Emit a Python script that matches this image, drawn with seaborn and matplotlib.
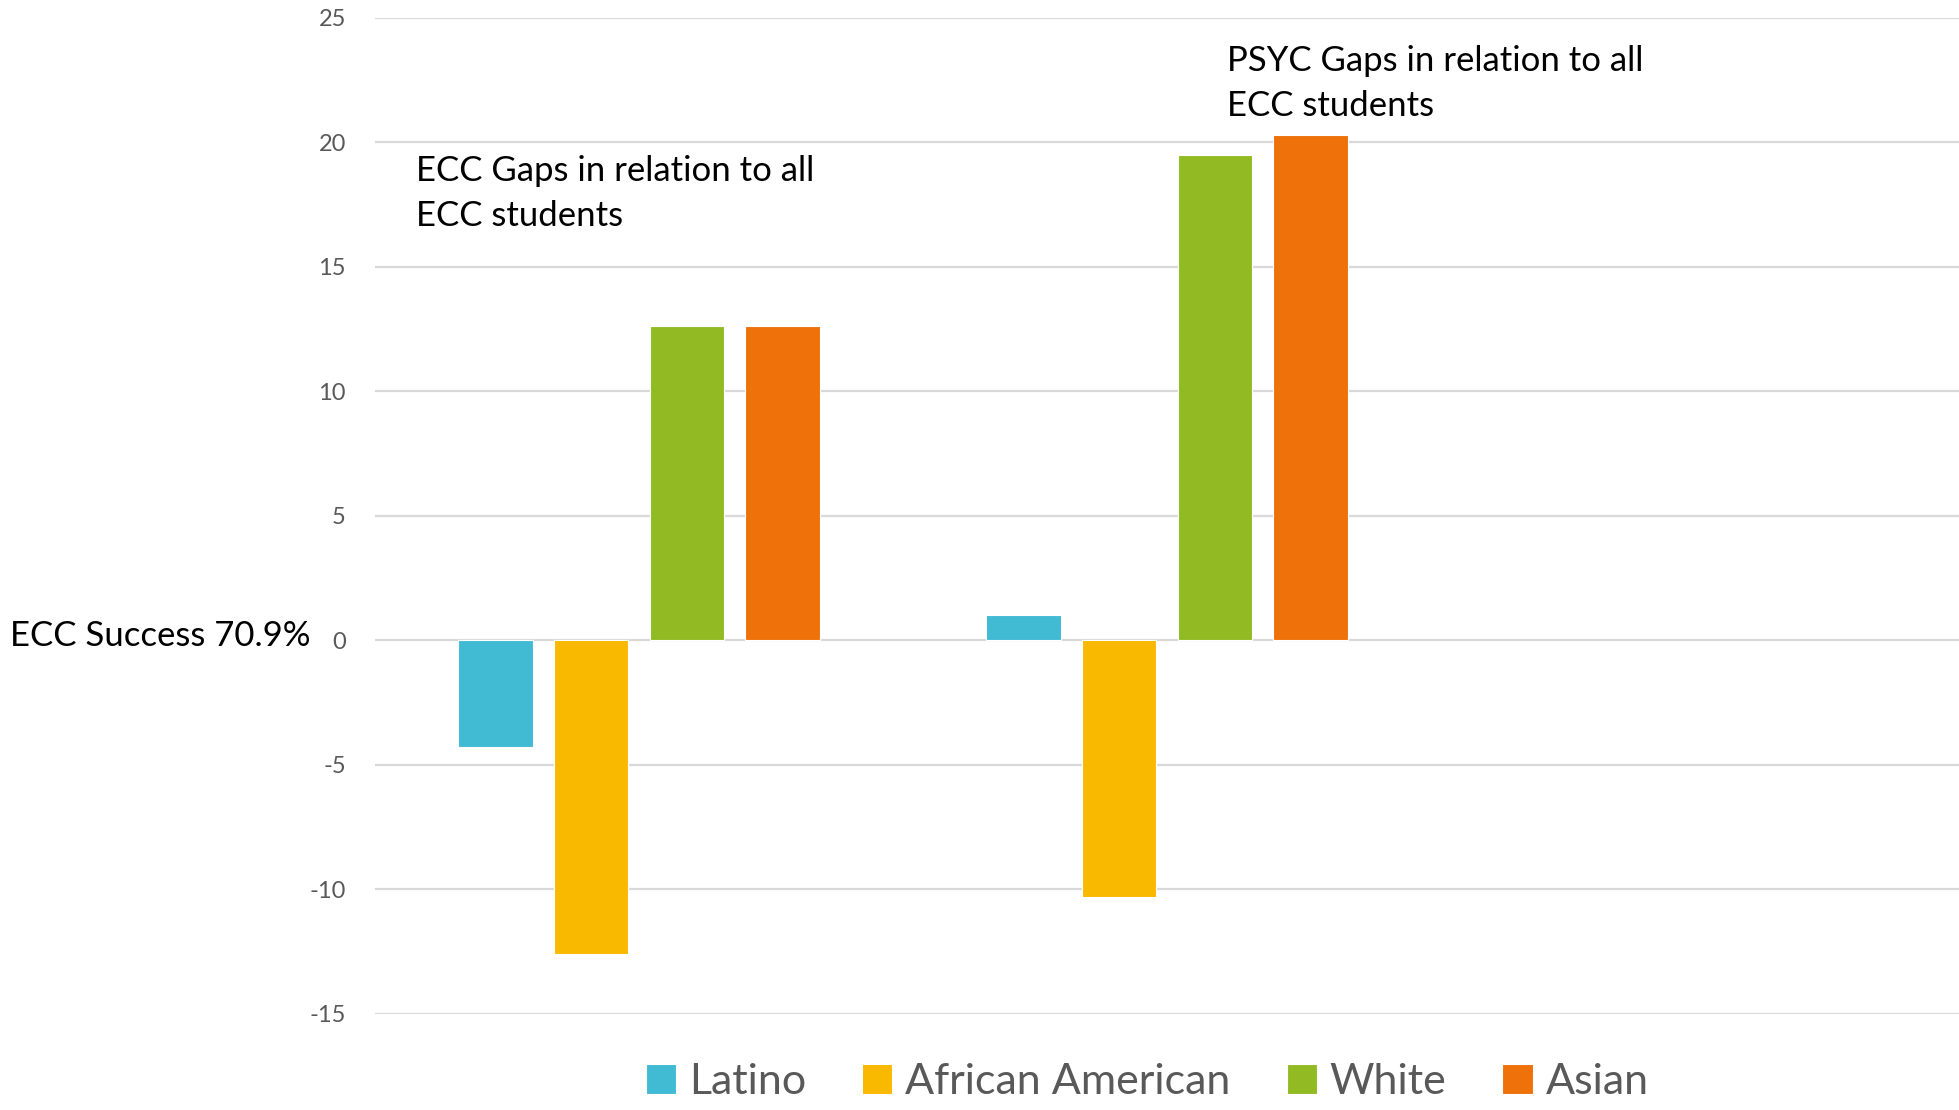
import pandas as pd
import matplotlib.pyplot as plt
import seaborn as sns

# Gap values (percentage points relative to all ECC students)
groups = ['ECC', 'PSYC']
ethnicities = ['Latino', 'African American', 'White', 'Asian']
ecc_gaps = [-4.3, -12.6, 12.6, 12.6]
psyc_gaps = [1.0, -10.3, 19.5, 20.3]
colors = ['#41BAD3', '#F9B900', '#92BB23', '#EE710A']
y_ticks = [-15, -10, -5, 0, 5, 10, 15, 20, 25]

df = pd.DataFrame({
    'group': ['ECC'] * 4 + ['PSYC'] * 4,
    'ethnicity': ethnicities * 2,
    'gap': ecc_gaps + psyc_gaps,
})

sns.set_style('white')
plt.rcParams['font.family'] = ['Lato', 'DejaVu Sans']

fig = plt.figure(figsize=(19.59, 11.10), dpi=100)
ax = fig.add_axes([0.1914, 0.0865, 0.8086, 0.8977])

sns.barplot(data=df, x='group', y='gap', hue='ethnicity', order=groups + [''],
            hue_order=ethnicities, palette=colors, saturation=1, width=0.726, gap=0.22,
            edgecolor='white', linewidth=0.8, ax=ax, errorbar=None, zorder=3)

ax.set_xlim(-0.5, 2.5)
ax.set_ylim(-15, 25)
ax.set_yticks(y_ticks)
ax.set_yticklabels([str(t) for t in y_ticks], color='#595959', fontsize=17)
ax.tick_params(axis='y', length=0, pad=21)
ax.set_xticks([])
ax.set_xlabel('')
ax.set_ylabel('')
ax.grid(axis='y', color='#D9D9D9', linewidth=1.6, zorder=0)
ax.set_axisbelow(True)
for s in ax.spines.values():
    s.set_visible(False)

# annotations
ax.text(-0.422, 19.5, 'ECC Gaps in relation to all\nECC students', fontsize=25,
        va='top', ha='left', color='black', linespacing=1.5)
ax.text(1.113, 23.9, 'PSYC Gaps in relation to all\nECC students', fontsize=25,
        va='top', ha='left', color='black', linespacing=1.5)
fig.text(0.005, 1 - 636 / 1110, 'ECC Success 70.9%', fontsize=25, va='center',
         ha='left', color='black')

# legend at the bottom
handles, labels = ax.get_legend_handles_labels()
ax.legend_.remove()
fig.legend(handles, labels, loc='center', bbox_to_anchor=(0.5857, 0.0248), ncol=4,
           frameon=False, fontsize=31, labelcolor='#595959', handlelength=0.7,
           handleheight=0.7, handletextpad=0.3, columnspacing=1.3)

fig.savefig('out.png', dpi=100)
